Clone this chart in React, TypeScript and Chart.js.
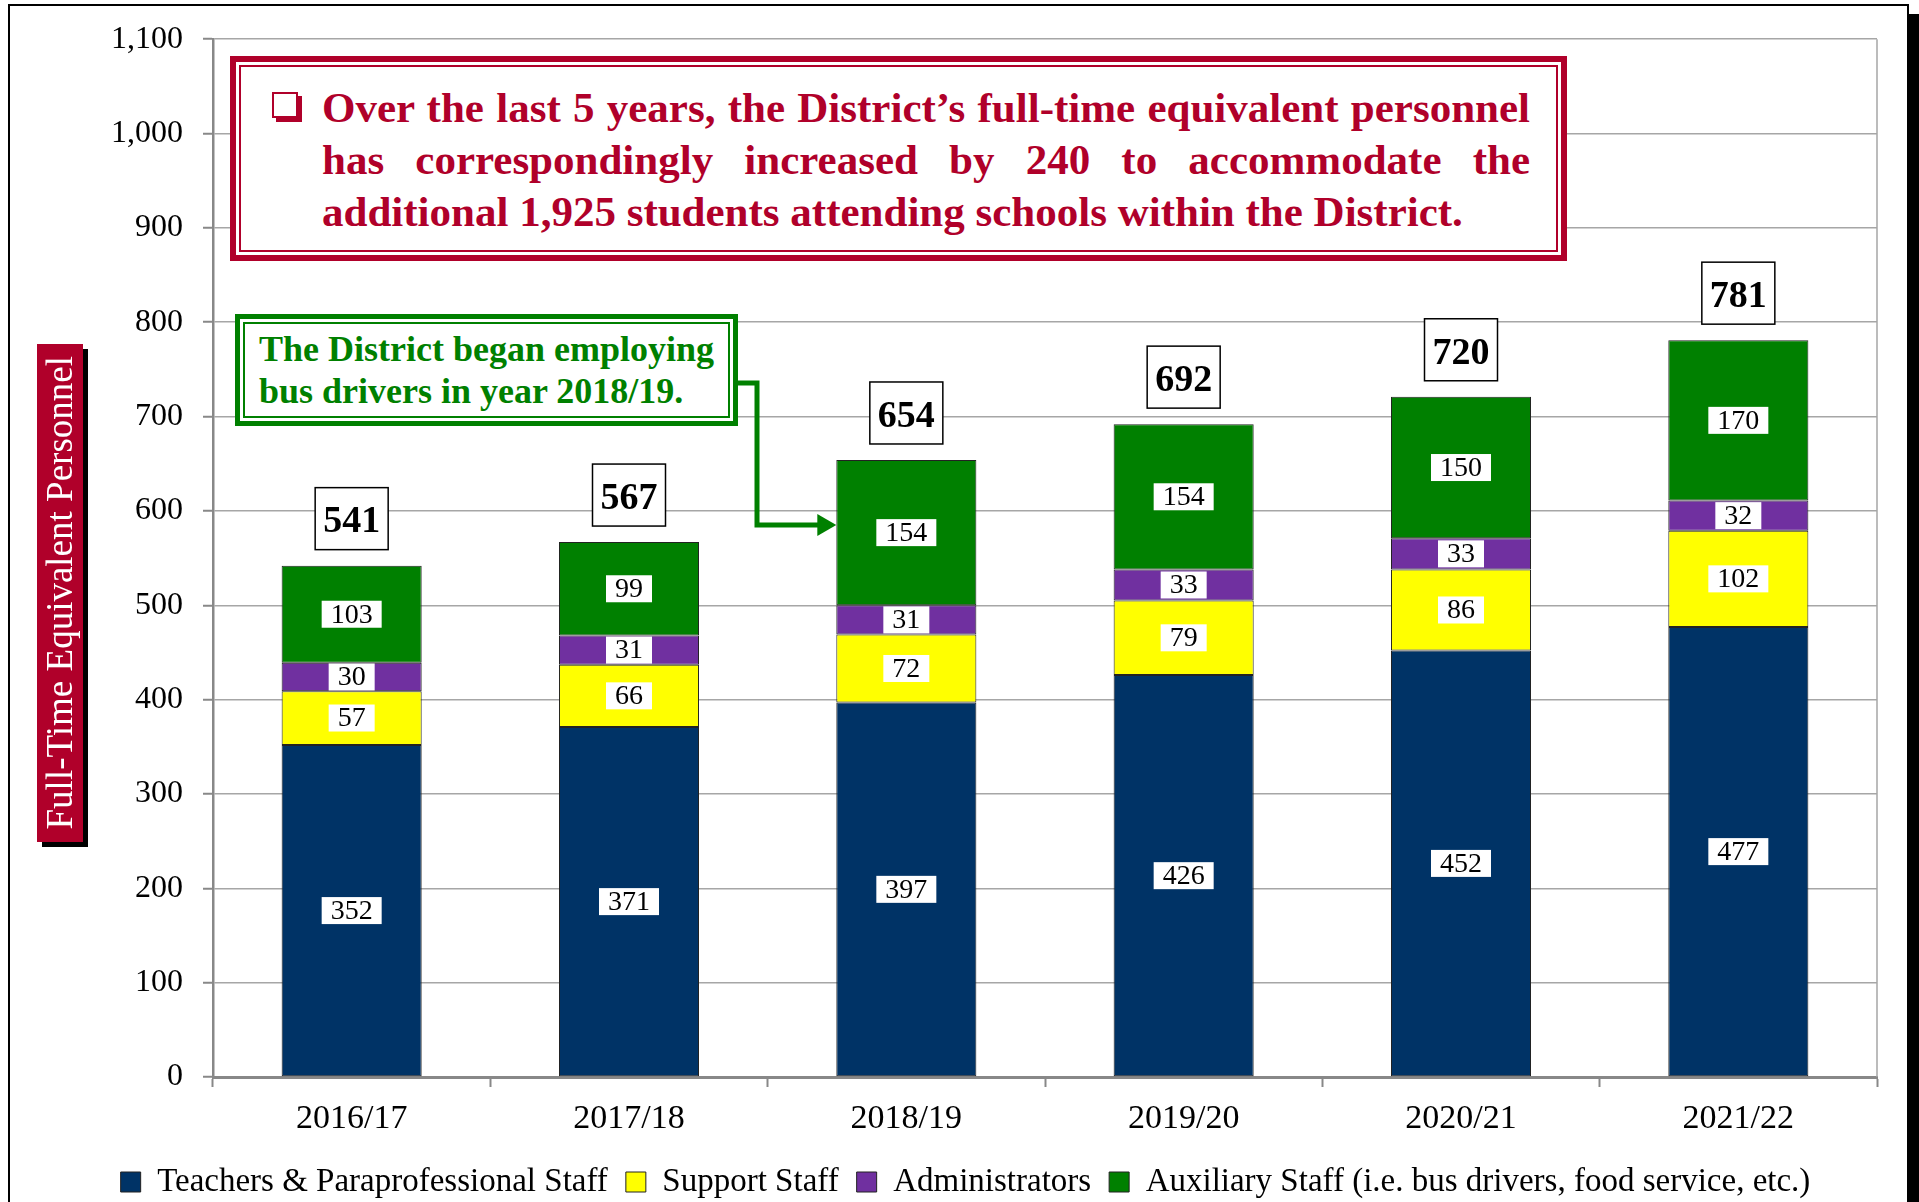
import React, { useEffect, useRef } from 'react';
import { Chart, registerables } from 'chart.js';

Chart.register(...registerables);

const years = ['2016/17', '2017/18', '2018/19', '2019/20', '2020/21', '2021/22'];
const teachers = [352, 371, 397, 426, 452, 477];
const support = [57, 66, 72, 79, 86, 102];
const admins = [30, 31, 31, 33, 33, 32];
const auxiliary = [103, 99, 154, 154, 150, 170];
const totals = [541, 567, 654, 692, 720, 781];
const seriesNames = [
  'Teachers & Paraprofessional Staff',
  'Support Staff',
  'Administrators',
  'Auxiliary Staff (i.e. bus drivers, food service, etc.)',
];
const seriesColors = ['#003366', '#FFFF00', '#7030A0', '#008000'];
const yMax = 1100;
const yStep = 100;
const arrowValue = 585;

const FONT = '"Liberation Serif", "Times New Roman", serif';
const RED = '#B0002A';
const GREEN = '#008000';

const labelPlugin = {
  id: 'segLabels',
  afterDatasetsDraw(chart: any) {
    const ctx = chart.ctx as CanvasRenderingContext2D;
    const area = chart.chartArea;
    ctx.save();
    ctx.strokeStyle = '#a6a6a6';
    ctx.lineWidth = 1.5;
    ctx.beginPath();
    ctx.moveTo(area.right, area.top);
    ctx.lineTo(area.right, area.bottom);
    ctx.stroke();

    chart.data.datasets.forEach((ds: any, di: number) => {
      const meta = chart.getDatasetMeta(di);
      meta.data.forEach((bar: any, i: number) => {
        const t = String(ds.data[i]);
        const cx = bar.x;
        const cy = (bar.y + bar.base) / 2;
        ctx.font = `28px ${FONT}`;
        const w = ctx.measureText(t).width + 18;
        const h = 27;
        ctx.fillStyle = '#fff';
        ctx.fillRect(cx - w / 2, cy - h / 2, w, h);
        ctx.fillStyle = '#000';
        ctx.textAlign = 'center';
        ctx.textBaseline = 'middle';
        ctx.fillText(t, cx, cy + 1);
      });
    });

    const lastMeta = chart.getDatasetMeta(chart.data.datasets.length - 1);
    lastMeta.data.forEach((bar: any, i: number) => {
      const bw = 73;
      const bh = 62;
      const bx = bar.x - bw / 2;
      const by = bar.y - 16 - bh;
      ctx.fillStyle = '#fff';
      ctx.fillRect(bx, by, bw, bh);
      ctx.strokeStyle = '#000';
      ctx.lineWidth = 1.5;
      ctx.strokeRect(bx, by, bw, bh);
      ctx.fillStyle = '#000';
      ctx.font = `bold 38px ${FONT}`;
      ctx.textAlign = 'center';
      ctx.textBaseline = 'middle';
      ctx.fillText(String(totals[i]), bar.x, by + bh / 2 + 4);
    });

    const target: any = chart.getDatasetMeta(3).data[2];
    const endX = target.x - target.width / 2;
    const endY = chart.scales.y.getPixelForValue(arrowValue);
    ctx.strokeStyle = GREEN;
    ctx.fillStyle = GREEN;
    ctx.lineWidth = 5;
    ctx.lineJoin = 'miter';
    ctx.beginPath();
    ctx.moveTo(738, 383);
    ctx.lineTo(757, 383);
    ctx.lineTo(757, endY);
    ctx.lineTo(endX - 16, endY);
    ctx.stroke();
    ctx.beginPath();
    ctx.moveTo(endX, endY);
    ctx.lineTo(endX - 19, endY - 11);
    ctx.lineTo(endX - 19, endY + 11);
    ctx.closePath();
    ctx.fill();
    ctx.restore();
  },
};

export default function App() {
  const ref = useRef<HTMLCanvasElement>(null);

  useEffect(() => {
    const datasets = [teachers, support, admins, auxiliary].map((d, i) => ({
      label: seriesNames[i],
      data: d,
      backgroundColor: seriesColors[i],
      borderColor: '#222',
      borderWidth: 1,
      borderSkipped: false as any,
      categoryPercentage: 1,
      barPercentage: 0.505,
    }));
    const chart = new Chart(ref.current as HTMLCanvasElement, {
      type: 'bar',
      data: { labels: years, datasets },
      options: {
        animation: false,
        responsive: false,
        maintainAspectRatio: false,
        devicePixelRatio: 1,
        layout: { padding: { left: 54, right: 42, top: 39, bottom: 11.5 } },
        scales: {
          x: {
            stacked: true,
            grid: {
              drawOnChartArea: false,
              drawTicks: true,
              tickLength: 10,
              tickColor: '#888',
              tickWidth: 2,
              offset: true,
            },
            border: { color: '#888', width: 3 },
            ticks: { color: '#000', font: { family: FONT, size: 34 }, padding: 12 },
            afterFit: (s: any) => {
              s.height = 70.5;
            },
          },
          y: {
            stacked: true,
            min: 0,
            max: yMax,
            ticks: {
              stepSize: yStep,
              color: '#000',
              font: { family: FONT, size: 32 },
              padding: 20,
              callback: (v: any) => Number(v).toLocaleString('en-US'),
            },
            grid: {
              color: '#a6a6a6',
              lineWidth: 1.5,
              tickLength: 10,
              tickColor: '#888',
              tickWidth: 2,
            },
            border: { color: '#888', width: 2.5 },
            afterFit: (s: any) => {
              s.width = 159;
            },
          },
        },
        plugins: {
          legend: {
            position: 'bottom',
            labels: {
              boxWidth: 20,
              boxHeight: 20,
              padding: 18,
              color: '#000',
              font: { family: FONT, size: 33 },
            },
          },
          tooltip: { enabled: false },
        },
      } as any,
      plugins: [labelPlugin],
    });
    return () => chart.destroy();
  }, []);

  const redLine: React.CSSProperties = {
    height: 52,
    lineHeight: '52px',
    textAlign: 'justify',
    textAlignLast: 'justify' as any,
  };

  return (
    <div
      style={{
        position: 'absolute',
        left: 0,
        top: 0,
        width: 1919,
        height: 1202,
        overflow: 'hidden',
        background: '#fff',
        fontFamily: FONT,
      }}
    >
      <div
        style={{
          position: 'absolute',
          left: 8,
          top: 4,
          width: 1901,
          height: 1400,
          boxSizing: 'border-box',
          border: '2px solid #000',
          boxShadow: '10px 10px 0 #000',
          background: '#fff',
        }}
      />
      <canvas
        ref={ref}
        width={1919}
        height={1220}
        style={{ position: 'absolute', left: 0, top: 0, width: 1919, height: 1220 }}
      />

      <div
        style={{
          position: 'absolute',
          left: 230,
          top: 56,
          width: 1337,
          height: 205,
          boxSizing: 'border-box',
          border: `6px solid ${RED}`,
          background: '#fff',
        }}
      >
        <div
          style={{
            position: 'absolute',
            left: 3,
            top: 3,
            right: 3,
            bottom: 3,
            border: `2px solid ${RED}`,
          }}
        />
        <div
          style={{
            position: 'absolute',
            left: 36,
            top: 30,
            width: 22,
            height: 22,
            border: `2px solid ${RED}`,
            boxShadow: `4px 4px 0 ${RED}`,
            background: '#fff',
          }}
        />
        <div
          style={{
            position: 'absolute',
            left: 86,
            top: 20,
            width: 1208,
            color: RED,
            fontWeight: 'bold',
            fontSize: 43,
          }}
        >
          <div style={redLine}>Over the last 5 years, the District’s full-time equivalent personnel</div>
          <div style={redLine}>has correspondingly increased by 240 to accommodate the</div>
          <div style={{ height: 52, lineHeight: '52px', textAlign: 'left' }}>
            additional 1,925 students attending schools within the District.
          </div>
        </div>
      </div>

      <div
        style={{
          position: 'absolute',
          left: 235,
          top: 314,
          width: 503,
          height: 112,
          boxSizing: 'border-box',
          border: `5px solid ${GREEN}`,
          background: '#fff',
        }}
      >
        <div
          style={{
            position: 'absolute',
            left: 3,
            top: 3,
            right: 3,
            bottom: 3,
            border: `2px solid ${GREEN}`,
          }}
        />
        <div
          style={{
            position: 'absolute',
            left: 19,
            top: 9,
            color: GREEN,
            fontWeight: 'bold',
            fontSize: 36,
            lineHeight: '42px',
            whiteSpace: 'nowrap',
          }}
        >
          <div>The District began employing</div>
          <div>bus drivers in year 2018/19.</div>
        </div>
      </div>

      <div
        style={{
          position: 'absolute',
          left: 37,
          top: 344,
          width: 46,
          height: 498,
          background: RED,
          boxShadow: '5px 5px 0 #000',
          display: 'flex',
          alignItems: 'center',
          justifyContent: 'center',
        }}
      >
        <div
          style={{
            writingMode: 'vertical-rl',
            transform: 'rotate(180deg)',
            color: '#fff',
            fontWeight: 'normal',
            fontSize: 37,
            lineHeight: '46px',
            whiteSpace: 'nowrap',
          }}
        >
          Full-Time Equivalent Personnel
        </div>
      </div>
    </div>
  );
}
